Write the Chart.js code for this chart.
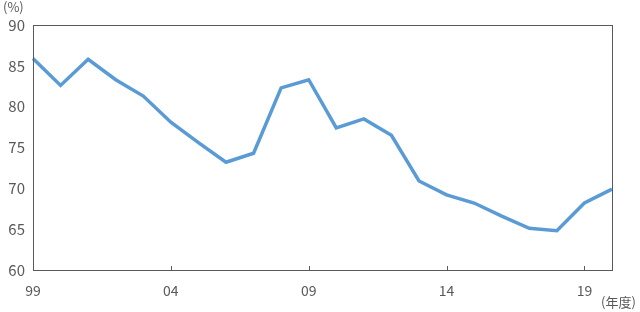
<!DOCTYPE html>
<html>
<head>
<meta charset="utf-8">
<script src="https://cdn.jsdelivr.net/npm/chart.js@4"></script>
<style>
  html, body { margin: 0; padding: 0; background: #fff; }
  #wrap { position: relative; width: 640px; height: 312px; }
  .note { position: absolute; font-family: "Noto Sans CJK JP", sans-serif; font-size: 13px; line-height: 1; color: #595959; }
</style>
</head>
<body>
<div id="wrap">
  <canvas id="chart" width="640" height="312"></canvas>
  <div class="note" style="left:3px; top:0px;">(%)</div>
  <div class="note" style="left:601px; top:295px;">(年度)</div>
</div>
<script>
// fiscal years 1999-2020
const years = ['99', '00', '01', '02', '03', '04', '05', '06', '07', '08', '09',
               '10', '11', '12', '13', '14', '15', '16', '17', '18', '19', '20'];
const ratio = [85.9, 82.6, 85.8, 83.3, 81.3, 78.1, 75.6, 73.2, 74.3, 82.3, 83.3,
               77.4, 78.5, 76.5, 70.9, 69.2, 68.2, 66.6, 65.1, 64.8, 68.2, 69.9];
const shownYears = ['99', '04', '09', '14', '19'];

const axisColor = '#595959';

// box around the plot and short inward ticks on the x axis
const framePlugin = {
  id: 'frame',
  afterDraw(chart) {
    const { ctx, chartArea: a, scales } = chart;
    ctx.save();
    ctx.strokeStyle = axisColor;
    ctx.lineWidth = 1;
    ctx.strokeRect(a.left + 0.5, a.top + 0.5, a.right - a.left, a.bottom - a.top);
    ctx.beginPath();
    shownYears.forEach(y => {
      const x = Math.round(scales.x.getPixelForValue(years.indexOf(y))) + 0.5;
      ctx.moveTo(x, a.bottom);
      ctx.lineTo(x, a.bottom - 4);
    });
    ctx.stroke();
    ctx.restore();
  }
};

new Chart(document.getElementById('chart'), {
  type: 'line',
  data: {
    labels: years,
    datasets: [{
      data: ratio,
      borderColor: '#5b9bd5',
      borderWidth: 3.5,
      pointRadius: 0,
      tension: 0,
      fill: false
    }]
  },
  options: {
    responsive: false,
    animation: false,
    layout: { padding: { top: 25, right: 28, left: 0, bottom: 0 } },
    plugins: { legend: { display: false }, tooltip: { enabled: false } },
    scales: {
      x: {
        offset: false,
        grid: { display: false },
        border: { display: false },
        afterFit(s) { s.height = 42; },
        ticks: {
          autoSkip: false,
          maxRotation: 0,
          padding: 4,
          color: axisColor,
          font: { family: '"Noto Sans CJK JP", sans-serif', size: 14 },
          callback(v) { const l = years[v]; return shownYears.includes(l) ? l : ''; }
        }
      },
      y: {
        min: 60,
        max: 90,
        grid: { display: false, drawTicks: false },
        border: { display: false },
        afterFit(s) { s.width = 33; },
        ticks: {
          stepSize: 5,
          padding: 8,
          color: axisColor,
          font: { family: '"Noto Sans CJK JP", sans-serif', size: 15 }
        }
      }
    }
  },
  plugins: [framePlugin]
});
</script>
</body>
</html>
